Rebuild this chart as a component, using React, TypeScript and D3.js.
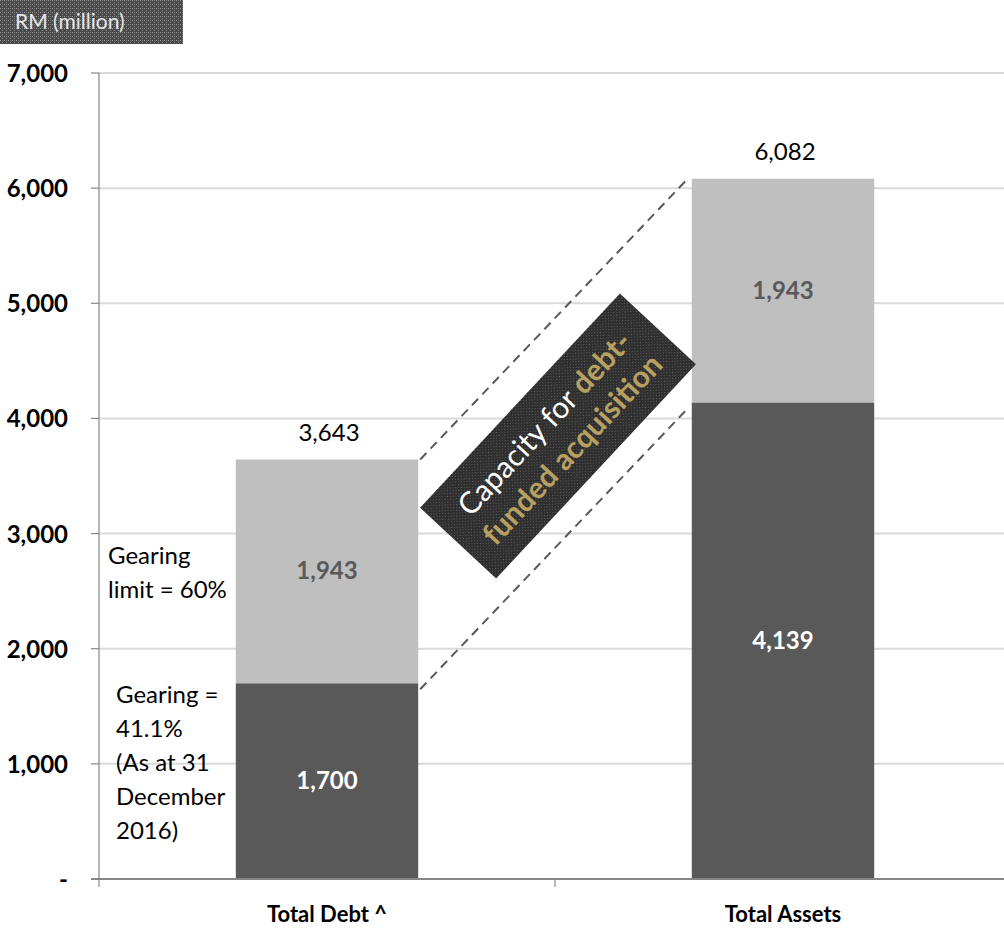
import React from "react";
import * as d3 from "d3";

const categories = ["Total Debt ^", "Total Assets"];
const baseValues = [1700, 4139];
const topValues = [1943, 1943];
const totals = [3643, 6082];
const yTicks = [0, 1000, 2000, 3000, 4000, 5000, 6000, 7000];
const gearingLimitLines = ["Gearing", "limit = 60%"];
const gearingLines = ["Gearing =", "41.1%", "(As at 31", "December", "2016)"];

const W = 1004;
const H = 929;
const FONT = "Lato, 'Open Sans', sans-serif";

export default function App() {
  const left = 99;
  const top = 73;
  const bottom = 879;
  const right = 1011;
  const x = d3.scaleBand<string>().domain(categories).range([left, right]).paddingInner(0.6).paddingOuter(0.3);
  const y = d3.scaleLinear().domain([0, 7000]).range([bottom, top]);
  const bw = x.bandwidth();
  const fmt = d3.format(",");

  const dX0 = (x(categories[0]) as number) + bw;
  const dX1 = x(categories[1]) as number;

  const cx = 558, cy = 436, bwid = 293, bh = 104, ang = -47;

  return (
    <svg width={W} height={H} style={{ position: "absolute", left: 0, top: 0, background: "#fff" }}>
      <defs>
        <pattern id="patDark" width="4" height="4" patternUnits="userSpaceOnUse">
          <rect width="4" height="4" fill="#2e2e2e" />
          <rect x="0" y="0" width="1" height="1" fill="#6a6a6a" />
          <rect x="2" y="2" width="1" height="1" fill="#5a5a5a" />
        </pattern>
        <pattern id="patRM" width="4" height="4" patternUnits="userSpaceOnUse">
          <rect width="4" height="4" fill="#4a4a4a" />
          <rect x="0" y="0" width="1" height="1" fill="#9a9a9a" />
          <rect x="2" y="2" width="1" height="1" fill="#8a8a8a" />
          <rect x="2" y="0" width="1" height="1" fill="#777" />
        </pattern>
      </defs>

      <rect x={0} y={0} width={183} height={44} fill="url(#patRM)" />
      <text x={15} y={29} fontFamily={FONT} fontSize={21} fill="#e6e6e6">RM (million)</text>

      {yTicks.filter((t) => t > 0).map((t) => (
        <line key={t} x1={left} x2={W} y1={y(t)} y2={y(t)} stroke="#d9d9d9" strokeWidth={2} />
      ))}

      {categories.map((c, i) => {
        const bx = x(c) as number;
        return (
          <g key={c}>
            <rect x={bx} y={y(baseValues[i])} width={bw} height={y(0) - y(baseValues[i])} fill="#595959" />
            <rect x={bx} y={y(baseValues[i] + topValues[i])} width={bw} height={y(baseValues[i]) - y(baseValues[i] + topValues[i])} fill="#bfbfbf" />
            <text x={bx + bw / 2} y={y(baseValues[i] / 2) + 8} textAnchor="middle" fontFamily={FONT} fontWeight="bold" fontSize={24} fill="#fff">{fmt(baseValues[i])}</text>
            <text x={bx + bw / 2} y={y(baseValues[i] + topValues[i] / 2) + 8} textAnchor="middle" fontFamily={FONT} fontWeight="bold" fontSize={24} fill="#595959">{fmt(topValues[i])}</text>
            <text x={bx + bw / 2 + 2} y={y(totals[i]) - 19} textAnchor="middle" fontFamily={FONT} fontSize={24} fill="#000">{fmt(totals[i])}</text>
            <text x={bx + bw / 2} y={922} textAnchor="middle" fontFamily={FONT} fontWeight="bold" fontSize={22} fill="#000">{c}</text>
          </g>
        );
      })}

      <line x1={left} x2={left} y1={top} y2={bottom} stroke="#868686" strokeWidth={1.2} />
      {yTicks.map((t) => (
        <g key={t}>
          <line x1={left - 8} x2={left} y1={y(t)} y2={y(t)} stroke="#868686" strokeWidth={1.2} />
          <text x={68} y={y(t) + 9} textAnchor="end" fontFamily={FONT} fontWeight="bold" fontSize={24} fill="#000">{t === 0 ? "-" : fmt(t)}</text>
        </g>
      ))}
      <line x1={left - 8} x2={W} y1={bottom} y2={bottom} stroke="#868686" strokeWidth={2} />
      {[left, left + (right - left) / 2].map((tx) => (
        <line key={tx} x1={tx} x2={tx} y1={bottom} y2={bottom + 8} stroke="#868686" strokeWidth={1.2} />
      ))}

      <line x1={dX0 + 2} y1={y(totals[0])} x2={dX1 - 4} y2={y(totals[1])} stroke="#595959" strokeWidth={2} strokeDasharray="9,6" />
      <line x1={dX0 + 2} y1={y(baseValues[0]) + 6} x2={dX1 - 4} y2={y(baseValues[1]) + 6} stroke="#595959" strokeWidth={2} strokeDasharray="9,6" />

      <g transform={`translate(${cx},${cy}) rotate(${ang})`}>
        <rect x={-bwid / 2} y={-bh / 2} width={bwid} height={bh} fill="url(#patDark)" />
        <text x={0} y={-8} textAnchor="middle" fontFamily={FONT} fontSize={30}>
          <tspan fill="#fff">Capacity for </tspan>
          <tspan fill="#b8a060" fontWeight="bold">debt-</tspan>
        </text>
        <text x={0} y={30} textAnchor="middle" fontFamily={FONT} fontSize={30} fill="#b8a060" fontWeight="bold">funded acquisition</text>
      </g>

      {gearingLimitLines.map((s, i) => (
        <text key={s} x={108} y={564 + i * 34} fontFamily={FONT} fontSize={24} fill="#000">{s}</text>
      ))}
      {gearingLines.map((s, i) => (
        <text key={s} x={116} y={703 + i * 34} fontFamily={FONT} fontSize={24} fill="#000">{s}</text>
      ))}
    </svg>
  );
}
